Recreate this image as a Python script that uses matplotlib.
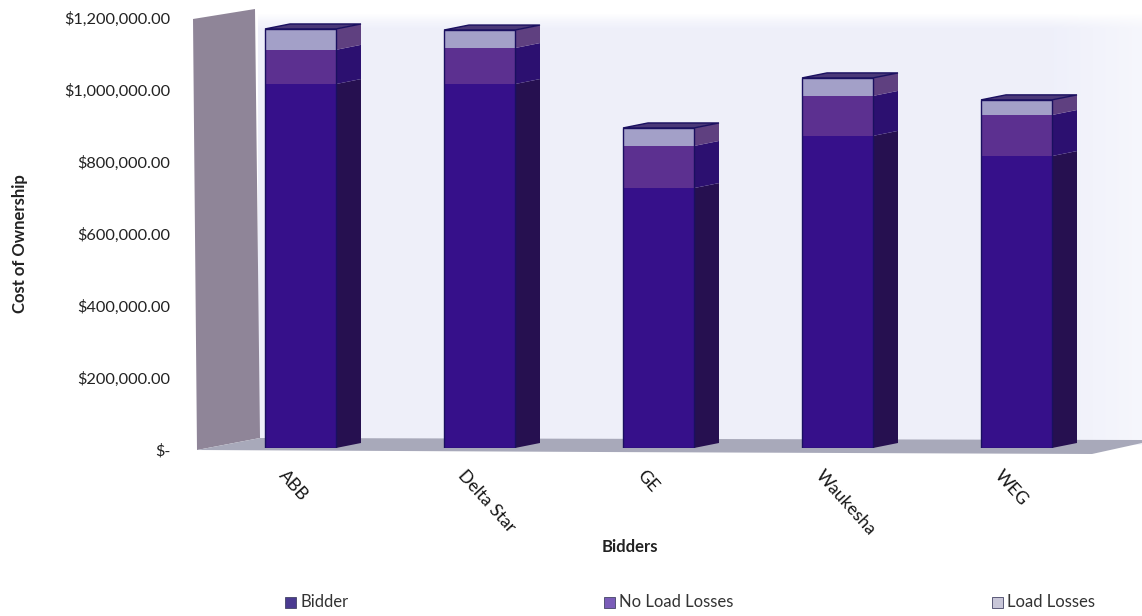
import matplotlib
matplotlib.use("Agg")
import matplotlib.pyplot as plt
import numpy as np
from matplotlib.patches import Polygon, Rectangle
from matplotlib.transforms import ScaledTranslation

plt.rcParams["font.family"] = ["Lato", "DejaVu Sans"]

bidders = ["ABB", "Delta Star", "GE", "Waukesha", "WEG"]
bidder_cost = [1011000, 1011000, 722000, 867000, 811000]
no_load_losses = [95000, 100000, 117000, 111000, 114000]
load_losses = [58000, 50000, 50000, 50000, 42000]
series_names = ["Bidder", "No Load Losses", "Load Losses"]
y_ticks = [0, 200000, 400000, 600000, 800000, 1000000, 1200000]
y_tick_labels = ["$-", "$200,000.00", "$400,000.00", "$600,000.00",
                 "$800,000.00", "$1,000,000.00", "$1,200,000.00"]

W, H = 1142, 616
fig = plt.figure(figsize=(W / 100, H / 100), dpi=100, facecolor="white")

# Axes box in figure pixels; value 0 sits on the front edge of the floor.
left, right, top, bottom = 197, 1115, 16, 448
ax = fig.add_axes([left / W, 1 - bottom / H, (right - left) / W, (bottom - top) / H])
ax.set_ylim(0, 1200000)
ax.set_xlim((left - 300.5) / 179, (right - 300.5) / 179)
ax.patch.set_visible(False)
for s in ax.spines.values():
    s.set_visible(False)


def px(x, y):
    """Transform helper: figure pixels (origin top-left) to figure fraction."""
    return (x / W, 1 - y / H)


# Back wall: a faint lavender tint that eases off toward the right edge.
fade_x = 0.55 + 0.45 * np.clip((1142 - np.linspace(258, 1142, 200)) / 90, 0, 1)
fade_y = np.clip(np.linspace(0, 1, 60) / 0.03, 0, 1)
strength = np.outer(fade_y, fade_x)[..., None]
wall = 1 - strength * (1 - np.array([0.935, 0.94, 0.98]))
bg = fig.add_axes([258 / W, 1 - 445 / H, (1142 - 258) / W, 435 / H], zorder=0)
bg.imshow(wall, aspect="auto", interpolation="bilinear")
bg.axis("off")
ax.set_zorder(2)

# Side wall and floor of the chart box.
side_wall = [px(193, 19), px(255, 9), px(260, 438), px(197, 450)]
floor = [px(197, 450), px(260, 438), px(1142, 440), px(1142, 443),
         px(1092, 454), px(600, 452)]
fig.add_artist(Polygon(side_wall, closed=True, transform=fig.transFigure,
                       fc="#8f8598", ec="none", zorder=1))
fig.add_artist(Polygon(floor, closed=True, transform=fig.transFigure,
                       fc="#a8a9ba", ec="none", zorder=1))

BAR_W = 71 / 179
DX = 25 / 179
DY = 5 * 1000000 / 360

front_colors = ["#36108a", "#5c3090", "#a3a0c8"]
side_colors = ["#261050", "#2c1070", "#5f4080"]
top_color = "#4a3878"
edge = "#1a1060"

base = np.zeros(len(bidders))
for values, fc, sc in zip([bidder_cost, no_load_losses, load_losses],
                          front_colors, side_colors):
    vals = np.array(values, dtype=float)
    for i, (b, v) in enumerate(zip(base, vals)):
        x0 = i - BAR_W / 2
        x1 = i + BAR_W / 2
        ax.add_patch(Polygon([(x1, b), (x1 + DX, b + DY), (x1 + DX, b + v + DY), (x1, b + v)],
                             closed=True, fc=sc, ec="none", zorder=3))
        ax.add_patch(Rectangle((x0, b), BAR_W, v, fc=fc, ec="none", zorder=4))
    base = base + vals

# Top faces and outlines of the stacks.
for i, t in enumerate(base):
    x0 = i - BAR_W / 2
    x1 = i + BAR_W / 2
    ax.add_patch(Polygon([(x0, t), (x1, t), (x1 + DX, t + DY), (x0 + DX, t + DY)],
                         closed=True, fc=top_color, ec=edge, lw=1, zorder=5))
    ax.add_patch(Rectangle((x0, 0), BAR_W, t, fc="none", ec=edge, lw=1, zorder=5))

ax.set_yticks(y_ticks)
ax.set_yticklabels(y_tick_labels, fontsize=11.8, color="#222222")
ax.tick_params(axis="y", length=0, pad=19)
for lab in ax.get_yticklabels():
    lab.set_transform(lab.get_transform() + ScaledTranslation(0, -2 / 100, fig.dpi_scale_trans))

ax.set_xticks(range(len(bidders)))
ax.set_xticklabels(bidders, rotation=-48, ha="left", rotation_mode="anchor",
                   fontsize=12.6, color="#151515")
ax.tick_params(axis="x", length=0, pad=14)
for lab in ax.get_xticklabels():
    lab.set_transform(lab.get_transform() + ScaledTranslation(-13 / 100, 0, fig.dpi_scale_trans))

fig.text(*px(20, 244), "Cost of Ownership", rotation=90, fontsize=12, fontweight="bold",
         ha="center", va="center", color="#222222")
fig.text(*px(629.5, 547), "Bidders", fontsize=12, fontweight="bold",
         ha="center", va="center", color="#222222")

# Legend entries are spaced unevenly across the bottom of the figure.
legend_x = [290, 609, 997]
legend_fc = ["#4a3a90", "#7a5cb8", "#c8c6d8"]
for x, name, fc in zip(legend_x, series_names, legend_fc):
    fig.add_artist(Rectangle(px(x - 5.5, 608), 11 / W, 11 / H, transform=fig.transFigure,
                             fc=fc, ec="#444466", lw=0.6))
    fig.text(*px(x + 10, 602), name, fontsize=12, ha="left", va="center", color="#333333")

fig.savefig("out.png", dpi=100)
